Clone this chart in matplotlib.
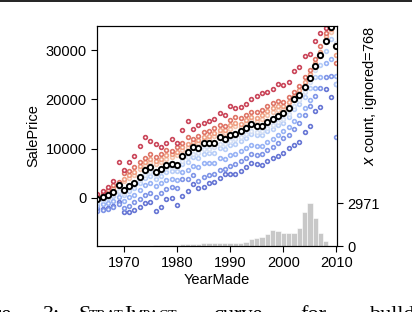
import numpy as np
import matplotlib.pyplot as plt
from matplotlib.lines import Line2D

plt.rcParams['font.family'] = ['Liberation Sans', 'DejaVu Sans']

years = list(range(1965, 2011))

# average curve (black)
avg = [-300, 270, 600, 1250, 2600, 1550, 2430, 3100, 4320, 5680,
       6320, 5330, 5980, 6760, 6960, 6760, 8580, 9270, 10280, 10200,
       11150, 11200, 11200, 12300, 11960, 12780, 12900, 13650, 14130, 14950,
       14670, 14670, 15470, 16020, 16700, 17180, 18220, 20050, 21000, 22570,
       24300, 26700, 29000, 31900, 34800, 30870]

# stratum curves, red (high) to blue (low)
red1 = [900, 1420, 2300, 3450, 7360, 5700, 7360, 8580, 10600, 12430,
        11620, 10900, 10280, 11090, 11900, 11220, 13790, 15680, 14000, 14800,
        15200, 15550, 16000, 17200, 16800, 18600, 18300, 18500, 19000, 20000,
        20700, 21300, 21500, 22200, 23100, 22900, 23460, 25800, 26500, 28860,
        29200, 31900, 33400, 34500, 36500, 38000]
red2 = [600, 1100, 1700, 2600, 3300, 5000, 5400, 6200, 7400, 8100,
        8900, 8300, 8900, 9700, 9500, 10300, 11200, 12300, 12000, 12500,
        13300, 13500, 14200, 14900, 14600, 15900, 16400, 16200, 16800, 17500,
        17400, 17900, 18700, 19300, 19600, 19500, 20500, 21600, 22800, 24500,
        26000, 28300, 30900, 33500, 35200, 27500]
red3 = [200, 700, 1300, 2000, 3000, 3900, 4700, 5300, 6500, 7300,
        7900, 7500, 8000, 8700, 8900, 9300, 10300, 11000, 11300, 11700,
        12300, 12600, 13200, 13800, 13700, 14800, 15300, 15100, 15900, 16400,
        16300, 16800, 17600, 18200, 18600, 18700, 19400, 20700, 21900, 23600,
        25100, 27500, 29700, 32800, 34300, 29000]
red4 = [-200, 400, 900, 1600, 2500, 3400, 4100, 4700, 5900, 6600,
        7300, 6900, 7400, 8000, 8300, 8700, 9700, 10300, 10800, 11100,
        11700, 12000, 12500, 13200, 13100, 14100, 14600, 14500, 15200, 15800,
        15700, 16100, 16900, 17500, 17900, 18100, 18700, 20000, 21200, 22700,
        24300, 26600, 28900, 32000, 33700, 31000]
blue0 = [-700, -300, 200, 800, 1500, 1000, 2000, 2600, 3700, 4700,
         5300, 4700, 5400, 6000, 6300, 6300, 7600, 8300, 9000, 9200,
         9900, 10000, 10300, 11000, 10900, 11600, 11900, 12400, 12900, 13500,
         13400, 13600, 14300, 14900, 15500, 16100, 17100, 18700, 19800, 21600,
         23500, 26000, 29000, 32000, 33800, 31500]
blue1 = [-1000, -500, 0, 400, 1200, 700, 1500, 2000, 3000, 4000,
         4400, 3800, 4500, 5300, 5500, 5400, 6800, 7400, 8300, 8200,
         9000, 9100, 9200, 10200, 10000, 10800, 11000, 11600, 12100, 12900,
         12700, 12700, 13500, 14100, 14800, 15300, 16400, 18000, 19000, 20500,
         22300, 24600, 27000, 29800, 32200, 23100]
blue2 = [-1600, -1300, -1000, -600, 100, -700, 300, 700, 1600, 2700,
         3000, 2400, 3000, 3700, 3900, 3700, 5200, 5700, 6400, 6300,
         7000, 7100, 7200, 8100, 7900, 8800, 9000, 9500, 10100, 10800,
         10600, 10600, 11300, 12000, 12800, 13500, 14400, 15600, 16800, 18200,
         19800, 22300, 24600, 27300, 28200, 24800]
blue3 = [-2600, -2400, -2300, -1900, -1300, -2100, -1600, -900, -200, 700,
         1000, 200, 1100, 1900, 2200, 2000, 3800, 3850, 4600, 3450,
         4300, 4700, 4900, 5600, 5900, 6500, 6800, 7500, 8100, 8900,
         8800, 8900, 9700, 10400, 11200, 12200, 12800, 14000, 15200, 16900,
         18600, 20800, 22400, 24500, 24800, 12300]
blue4 = [-2100, -2200, -1960, -1620, -750, -2780, -2780, -2430, -1890, -1080,
         -870, -2640, -1760, -260, -60, -1420, 400, 1500, 2840, 1960,
         2300, 3100, 3310, 4100, 4870, 4870, 4800, 5530, 6350, 7160,
         6900, 6690, 7440, 8050, 8520, 9200, 10080, 10700, 11300, 13320,
         14670, 17580, 18520, 22100, 20500, 23100]

# YearMade histogram
hist_years = list(range(1965, 2011))
hist_counts = [5, 5, 8, 10, 12, 15, 15, 18, 20, 25,
               30, 40, 50, 60, 75, 95, 110, 130, 150, 170,
               190, 200, 215, 225, 230, 215, 200, 210, 300, 460,
               530, 645, 810, 1105, 1036, 900, 900, 920, 1244, 2349,
               2971, 1935, 900, 345, 30, 0]
ignored = 768

strata = [
    (blue4, '#5f6fd2'),
    (blue3, '#7a91e6'),
    (blue2, '#94b0f5'),
    (blue1, '#b6cdf8'),
    (blue0, '#d4dff4'),
    (red4, '#f5c3ab'),
    (red3, '#ef9e80'),
    (red2, '#de6f60'),
    (red1, '#c73c51'),
]

fig = plt.figure(figsize=(4.12, 3.12), dpi=100)
ax = fig.add_axes([0.2354, 0.2115, 0.5825, 0.705])
ax2 = ax.twinx()

ax2.bar(hist_years, hist_counts, width=1.0, color='#c8c8c8',
        edgecolor='white', linewidth=0.4, zorder=0)
ax2.set_ylim(0, 15200)
ax2.set_yticks([0, max(hist_counts)])
ax2.set_ylabel('$x$ count, ignored=%d' % ignored, fontsize=10.5, loc='top')
ax2.yaxis.set_label_coords(1.10, 1.0)
ax2.tick_params(labelsize=10.5, length=4)

ax.set_zorder(ax2.get_zorder() + 1)
ax.patch.set_visible(False)

for vals, col in strata:
    ax.plot(years, vals, 'o', ms=2.7, mfc='white', mec=col, mew=1.2,
            alpha=0.95)
ax.plot(years, avg, 'o', ms=3.8, mfc='white', mec='black', mew=1.4)

ax.set_xlim(1964.95, 2010.1)
ax.set_ylim(-9750, 34900)
ax.set_xticks([1970, 1980, 1990, 2000, 2010])
ax.set_yticks([0, 10000, 20000, 30000])
ax.tick_params(labelsize=10.5, length=4)
ax.set_xlabel('YearMade', fontsize=10.5, labelpad=2)
ax.set_ylabel('SalePrice', fontsize=10.5)

# page rule and cropped caption from the paper
fig.add_artist(Line2D([0, 1], [0.997, 0.997], transform=fig.transFigure,
                      color='#222222', lw=1.4))
base = -0.027
cap = dict(family=['Liberation Serif', 'DejaVu Serif'], fontsize=16,
           va='baseline', color='black')
small = dict(family=['Liberation Serif', 'DejaVu Serif'], fontsize=10,
             va='baseline', color='black')
fig.text(12 / 412, base, 'Figure', ha='right', **cap)
fig.text(43 / 412, base, '3:', ha='left', **cap)
fig.text(78 / 412, base, 'S', ha='left', **cap)
fig.text(89 / 412, base, 'TRAT', ha='left', **small)
fig.text(124 / 412, base, 'I', ha='left', **cap)
fig.text(131 / 412, base, 'MPACT', ha='left', **small)
fig.text(213 / 412, base, 'curve', ha='left', **cap)
fig.text(300 / 412, base, 'for', ha='left', **cap)
fig.text(370 / 412, base, 'bulldozer', ha='left', **cap)

fig.savefig('out.png', dpi=100)
